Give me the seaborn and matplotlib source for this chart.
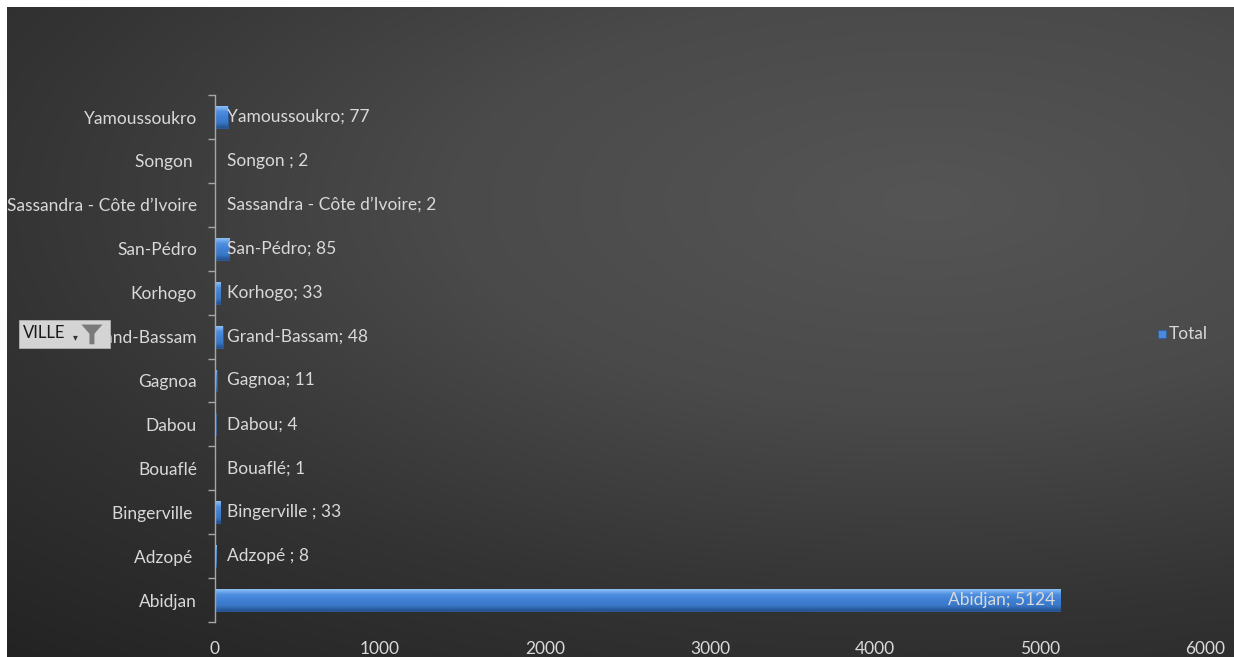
import numpy as np
import pandas as pd
import matplotlib.pyplot as plt
import seaborn as sns
from matplotlib.patches import Polygon

# data
villes = ['Abidjan', 'Adzopé ', 'Bingerville ', 'Bouaflé', 'Dabou', 'Gagnoa',
          'Grand-Bassam', 'Korhogo', 'San-Pédro', 'Sassandra - Côte d\u2019Ivoire',
          'Songon ', 'Yamoussoukro']
totaux = [5124, 8, 33, 1, 4, 11, 48, 33, 85, 2, 2, 77]
x_ticks = [0, 1000, 2000, 3000, 4000, 5000, 6000]

df = pd.DataFrame({'VILLE': villes, 'Total': totaux})
order = villes[::-1]  # Yamoussoukro on top

sns.set_theme(style='white')
plt.rcParams['font.family'] = ['Lato', 'DejaVu Sans']
txt = '#d9d9d9'
fs = 12.5

fig = plt.figure(figsize=(12.34, 6.57), dpi=100, facecolor='white')

# dark background, lighter towards the upper right
bg = fig.add_axes([0.006, 0.0, 0.994, 0.99])
yy, xx = np.mgrid[0:1:300j, 0:1:600j]
r = np.sqrt(((xx - 0.75) * 0.9) ** 2 + ((yy - 0.3) * 1.1) ** 2)
grad = np.clip(1 - r / 1.05, 0, 1)
bg.imshow(grad, cmap=sns.blend_palette(['#222222', '#333333', '#4a4a4a', '#555555'], as_cmap=True),
          aspect='auto', extent=[0, 1, 0, 1], vmin=0, vmax=1)
bg.set_axis_off()

ax = fig.add_axes([0.1742, 0.0533, 0.8023, 0.802])
ax.patch.set_alpha(0)
sns.barplot(data=df, y='VILLE', x='Total', order=order, orient='h',
            color='#3f80d4', width=0.5, saturation=1, ax=ax)

# glossy bar fill (light top edge, darker bottom edge)
shade = np.linspace(0, 1, 50).reshape(-1, 1)
bar_cmap = sns.blend_palette(['#8cc0f5', '#4d8ee0', '#3f80d4', '#3a78c8', '#24528f'], as_cmap=True)
for p in ax.patches:
    p.set_edgecolor('#2b5a9a')
    p.set_linewidth(0.6)
    x0, y0 = p.get_x(), p.get_y()
    w, h = p.get_width(), p.get_height()
    im = ax.imshow(shade, cmap=bar_cmap, aspect='auto', origin='upper',
                   extent=[x0, x0 + w, y0 + h, y0], zorder=p.get_zorder() + 0.1)
    im.set_clip_path(p)

ax.set_xlim(0, 6000)
ax.set_ylim(len(order) - 0.5, -0.5)
ax.set_xticks(x_ticks)
ax.set_xticklabels([str(t) for t in x_ticks], color=txt, fontsize=fs)
ax.tick_params(axis='x', length=0, pad=14)
ax.tick_params(axis='y', which='major', left=False, length=0, pad=13, labelsize=fs, labelcolor=txt)
ax.set_yticks(np.arange(len(order) + 1) - 0.5, minor=True)
ax.tick_params(axis='y', which='minor', left=True, length=5, width=1, color='#a6a6a6', direction='out')
ax.set_xlabel('')
ax.set_ylabel('')
for s in ['top', 'right', 'bottom']:
    ax.spines[s].set_visible(False)
ax.spines['left'].set_color('#a6a6a6')
ax.spines['left'].set_linewidth(1)

# data labels "ville; valeur"
for i, v in enumerate(order):
    val = df.loc[df['VILLE'] == v, 'Total'].iloc[0]
    label = f'{v}; {val}'
    if val > 1000:
        ax.annotate(label, (val, i), xytext=(-4, 0), textcoords='offset points',
                    ha='right', va='center', color=txt, fontsize=fs, zorder=5)
    else:
        ax.annotate(label, (0, i), xytext=(9, 0), textcoords='offset points',
                    ha='left', va='center', color=txt, fontsize=fs, zorder=5)

# legend
fig.text(0.9475, 0.492, 'Total', color=txt, fontsize=fs, va='center', ha='left')
fig.patches.append(plt.Rectangle((0.9385, 0.486), 0.0065, 0.012, transform=fig.transFigure,
                                 facecolor='#4a8ad8', edgecolor='#2b5a9a', lw=0.5))

# pivot field button
fig.patches.append(plt.Rectangle((0.0155, 0.471), 0.074, 0.042, transform=fig.transFigure,
                                 facecolor='#d4d4d4', edgecolor='#bdbdbd', lw=0.5, zorder=10))
fig.text(0.019, 0.493, 'VILLE', color='#1a1a1a', fontsize=12, va='center', ha='left', zorder=11)
fig.text(0.0615, 0.486, '\u25be', color='#333333', fontsize=7, va='center', ha='center', zorder=11)
fig.patches.append(Polygon([[0.066, 0.506], [0.083, 0.506], [0.0765, 0.492],
                            [0.0765, 0.476], [0.0725, 0.476], [0.0725, 0.492]],
                           closed=True, transform=fig.transFigure,
                           facecolor='#7a7a7a', edgecolor='none', zorder=11))

fig.savefig('out.png', dpi=100, facecolor='white')
